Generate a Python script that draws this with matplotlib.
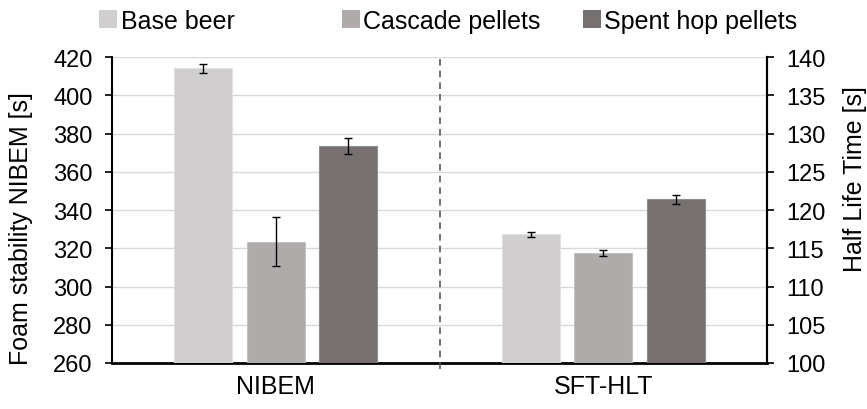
import numpy as np
import matplotlib
matplotlib.use("Agg")
import matplotlib.pyplot as plt
from matplotlib.patches import Patch

plt.rcParams["font.family"] = ["Liberation Sans", "DejaVu Sans"]

# ── Data ──────────────────────────────────────────────────────────────────────
methods = ["NIBEM", "SFT-HLT"]
samples = ["Base beer", "Cascade pellets", "Spent hop pellets"]
nibem_vals = [414, 323.3, 373.5]
nibem_err = [2.5, 12.8, 4.0]
hlt_vals = [116.8, 114.4, 121.4]
hlt_err = [0.3, 0.4, 0.6]

COLORS = ["#d0cecf", "#afabaa", "#767170"]
EDGES = ["#e2e0e1", "#c4c1c0", "#8f8b8a"]

# ── Figure ────────────────────────────────────────────────────────────────────
fig = plt.figure(figsize=(8.67, 4.10), dpi=100)
ax = fig.add_axes([0.1292, 0.1122, 0.7555, 0.7463])
ax2 = ax.twinx()

offsets = [-0.221, 0.0, 0.221]
width = 0.177
for i in range(3):
    ax.bar(0 + offsets[i], nibem_vals[i], width, color=COLORS[i],
           edgecolor=EDGES[i], linewidth=0.8, zorder=3)
    ax.errorbar(0 + offsets[i], nibem_vals[i], yerr=nibem_err[i], fmt="none",
                ecolor="black", elinewidth=1, capsize=3, capthick=1, zorder=4)
    ax2.bar(1 + offsets[i], hlt_vals[i], width, color=COLORS[i],
            edgecolor=EDGES[i], linewidth=0.8, zorder=3)
    ax2.errorbar(1 + offsets[i], hlt_vals[i], yerr=hlt_err[i], fmt="none",
                 ecolor="black", elinewidth=1, capsize=3, capthick=1, zorder=4)

ax.set_xlim(-0.5, 1.5)
ax.set_ylim(260, 420)
ax.set_yticks(np.arange(260, 421, 20))
ax2.set_ylim(100, 140)
ax2.set_yticks(np.arange(100, 141, 5))

ax.set_xticks([0, 1])
ax.set_xticklabels(methods, fontsize=18)
ax.tick_params(axis="x", length=0, pad=8)
ax.tick_params(axis="y", direction="out", length=5, width=1.2, labelsize=17, pad=9)
ax2.tick_params(axis="y", direction="out", length=5, width=1.2, labelsize=17, pad=9)

ax.grid(axis="y", color="#d9d9d9", linewidth=1, zorder=0)
ax.set_axisbelow(True)

for a in (ax, ax2):
    a.spines["top"].set_visible(False)
    a.spines["left"].set_linewidth(1.5)
    a.spines["right"].set_linewidth(1.5)
    a.spines["bottom"].set_linewidth(2)
ax2.spines["bottom"].set_visible(False)
ax2.spines["left"].set_visible(False)

# category divider
ax2.axvline(0.5, ymin=-0.02, ymax=1, color="#595959", linestyle=(0, (4, 3)),
            linewidth=1.2, clip_on=False, zorder=5)

ax.set_ylabel("Foam stability NIBEM [s]", fontsize=18)
ax.yaxis.set_label_coords(-0.121, 0.441)
ax2.set_ylabel("Half Life Time [s]", fontsize=18, rotation=90)
ax2.yaxis.set_label_coords(1.116, 0.606)

# legend: one entry per slot, like the Excel layout
legend_x = [0.114, 0.394, 0.672]
for name, col, lx in zip(samples, COLORS, legend_x):
    fig.legend([Patch(facecolor=col, edgecolor="none")], [name],
               loc="center left", bbox_to_anchor=(lx, 0.946),
               frameon=False, fontsize=18, handlelength=0.72,
               handleheight=0.72, handletextpad=0.15,
               borderpad=0, borderaxespad=0)

fig.savefig("out.png", dpi=100)
